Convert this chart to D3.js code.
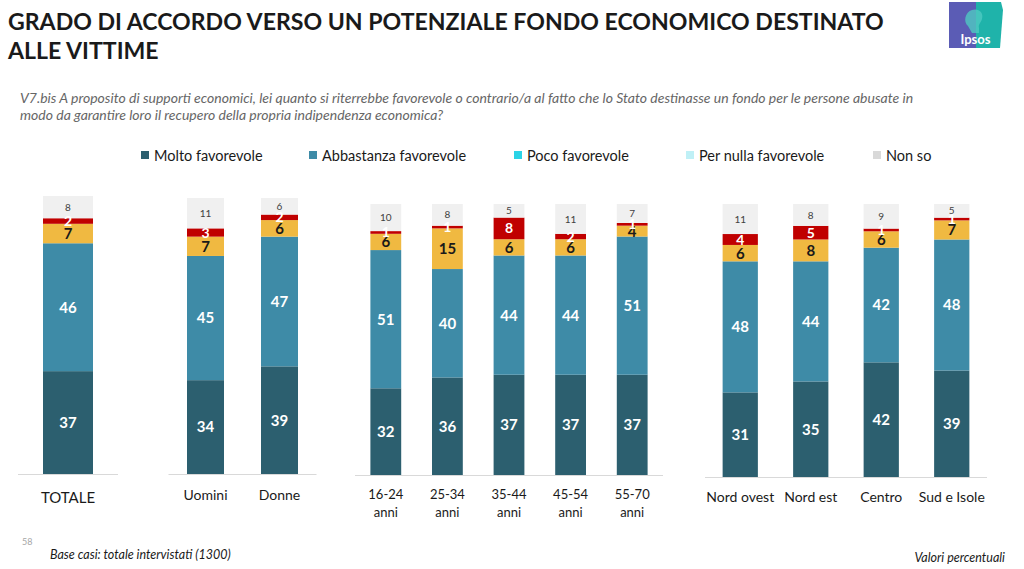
<!DOCTYPE html>
<html><head><meta charset="utf-8">
<script src="https://cdn.jsdelivr.net/npm/d3@7"></script>
<style>
html,body{margin:0;padding:0;background:#fff;}
svg{display:block;font-family:Lato,"Open Sans",sans-serif;}
</style></head>
<body><svg id="c" width="1024" height="569"></svg>
<script>
// ---- data ----
const categories = ["TOTALE","Uomini","Donne","16-24|anni","25-34|anni","35-44|anni","45-54|anni","55-70|anni","Nord ovest","Nord est","Centro","Sud e Isole"];
const panelOf    = [0,1,1,2,2,2,2,2,3,3,3,3];
const molto      = [37,34,39,32,36,37,37,37,31,35,42,39];
const abbastanza = [46,45,47,51,40,44,44,51,48,44,42,48];
const poco       = [7,7,6,6,15,6,6,4,6,8,6,7];
const perNulla   = [2,3,2,1,1,8,2,1,4,5,1,1];
const nonSo      = [8,11,6,10,8,5,11,7,11,8,9,5];
const seriesNames = ["Molto favorevole","Abbastanza favorevole","Poco favorevole","Per nulla favorevole","Non so"];

// ---- layout / style ----
const barColors    = ["#2c5f6f","#3e8ba7","#f0b941","#c00000","#f0f0f0"];
const legendColors = ["#2c5f6f","#3e8ba7","#2bd3e6","#bff0f6","#d9d9d9"];
const panels = [
  {x0:18,  x1:118, top:196, base:474, labelY:503, fs:15},
  {x0:168.5,x1:316.5, top:198, base:474, labelY:500, fs:14},
  {x0:355, x1:663, top:204, base:475, labelY:499, fs:13},
  {x0:705, x1:987, top:204, base:477, labelY:502, fs:14}
];

const svg = d3.select("#c");
const values = [molto, abbastanza, poco, perNulla, nonSo];
const rows = categories.map((c,i)=>{const r={cat:c,i}; seriesNames.forEach((s,k)=>r[s]=values[k][i]); return r;});
const stacked = d3.stack().keys(seriesNames)(rows);

// title
const title = svg.append("g").attr("font-weight",700).attr("fill","#1a1a1a").attr("font-size",23.1);
title.append("text").attr("x",8).attr("y",30).text("GRADO DI ACCORDO VERSO UN POTENZIALE FONDO ECONOMICO DESTINATO");
title.append("text").attr("x",8).attr("y",59).text("ALLE VITTIME");

// subtitle
const sub = svg.append("g").attr("font-style","italic").attr("fill","#666").attr("font-size",14);
sub.append("text").attr("x",20).attr("y",103).text("V7.bis A proposito di supporti economici, lei quanto si riterrebbe favorevole o contrario/a al fatto che lo Stato destinasse un fondo per le persone abusate in");
sub.append("text").attr("x",20).attr("y",120).text("modo da garantire loro il recupero della propria indipendenza economica?");

// logo
const logo = svg.append("g");
logo.append("rect").attr("x",949).attr("y",2).attr("width",27).attr("height",46).attr("fill","#5b5cb5");
logo.append("path").attr("d","M976,2 L1001,2 L1003,10 L1000,48 L976,48 Z").attr("fill","#1fb3aa");
logo.append("path").attr("d","M968,26 C963,22 965,12 972,10 C978,8 984,12 982,19 C981,23 978,24 979,28 L979,33 L972,33 Z").attr("fill","#4fc9c2").attr("opacity",0.8);
logo.append("text").attr("x",975.5).attr("y",44).attr("text-anchor","middle").attr("fill","#fff").attr("font-size",13).attr("font-weight",700).text("Ipsos");

// legend
const legX = [141,309,514,686,873];
const lg = svg.append("g");
seriesNames.forEach((s,k)=>{
  lg.append("rect").attr("x",legX[k]).attr("y",151).attr("width",8).attr("height",8).attr("fill",legendColors[k]);
  lg.append("text").attr("x",legX[k]+13).attr("y",161).attr("font-size",14.5).attr("fill","#1a1a1a").text(s);
});

// panels
panels.forEach((p,pi)=>{
  const idx = categories.map((c,i)=>i).filter(i=>panelOf[i]===pi);
  const x = d3.scaleBand().domain(idx).range([p.x0,p.x1]).paddingInner(0.5).paddingOuter(0.25);
  const y = d3.scaleLinear().domain([0,100]).range([p.base,p.top]);
  const g = svg.append("g");
  g.append("line").attr("x1",p.x0).attr("x2",p.x1).attr("y1",p.base+0.5).attr("y2",p.base+0.5).attr("stroke","#d9d9d9").attr("stroke-width",1.2);
  stacked.forEach((layer,k)=>{
    const data = layer.filter(d=>panelOf[d.data.i]===pi);
    g.selectAll(null).data(data).enter().append("rect")
      .attr("x",d=>x(d.data.i)).attr("width",x.bandwidth())
      .attr("y",d=>y(d[1])).attr("height",d=>y(d[0])-y(d[1]))
      .attr("fill",barColors[k]);
  });
  stacked.forEach((layer,k)=>{
    const data = layer.filter(d=>panelOf[d.data.i]===pi);
    const fs = [15,15,15,14,10][k];
    const fill = ["#fff","#fff","#1a1a1a","#fff","#404040"][k];
    g.selectAll(null).data(data).enter().append("text")
      .attr("x",d=>x(d.data.i)+x.bandwidth()/2)
      .attr("y",d=>(y(d[0])+y(d[1]))/2)
      .attr("dy","0.36em")
      .attr("text-anchor","middle")
      .attr("font-size",fs).attr("font-weight",k===4?400:700).attr("fill",fill)
      .text(d=>d.data[seriesNames[k]]);
  });
  // category labels
  idx.forEach(i=>{
    const parts = categories[i].split("|");
    const t = g.append("text").attr("x",x(i)+x.bandwidth()/2).attr("y",p.labelY).attr("text-anchor","middle")
      .attr("font-size",p.fs).attr("fill","#1a1a1a");
    parts.forEach((s,j)=>t.append("tspan").attr("x",x(i)+x.bandwidth()/2).attr("dy",j?18:0).text(s));
  });
});

// footer
svg.append("text").attr("x",22).attr("y",545).attr("font-size",9).attr("fill","#a6a6a6").text("58");
svg.append("text").attr("x",50).attr("y",559).attr("font-size",12.5).attr("font-style","italic").attr("fill","#1a1a1a").text("Base casi: totale intervistati (1300)");
svg.append("text").attr("x",1005).attr("y",562).attr("text-anchor","end").attr("font-size",12.5).attr("font-style","italic").attr("fill","#1a1a1a").text("Valori percentuali");
</script></body></html>
